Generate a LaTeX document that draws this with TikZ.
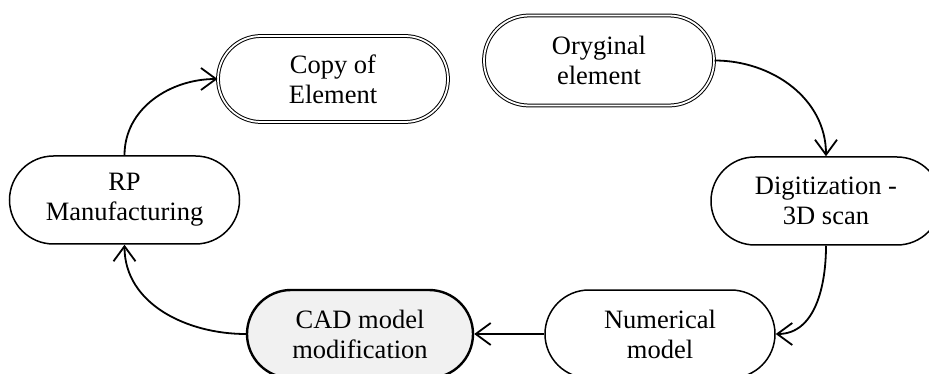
\documentclass[tikz,border=0pt]{standalone}
\usepackage{fontspec}
\setmainfont{Liberation Serif}
\usetikzlibrary{shapes.misc,arrows.meta}
\definecolor{cadfill}{HTML}{F1F1F1}
\tikzset{
  pill/.style={rounded rectangle, draw, line width=1.5pt, minimum width=230pt, minimum height=88pt,
    inner sep=0pt, align=center, font=\fontsize{26.5}{30}\selectfont},
  dpill/.style={pill, double, line width=1pt, double distance=1.8pt},
  flow/.style={line width=1.8pt, -{Straight Barb[length=15pt,width=22pt,line width=1.8pt]}}
}
\begin{document}
\begin{tikzpicture}[x=1pt,y=-1pt]
\useasboundingbox (0,0) rectangle (929,374);
\node[dpill, minimum width=230pt, minimum height=90pt] (orig) at (599,60.5) {Oryginal\\element};
\node[dpill, minimum width=230pt, minimum height=86pt] (copy) at (333,79) {Copy of\\Element};
\node[pill] (rp) at (124.5,200) {RP\\Manufacturing};
\node[pill] (dig) at (826,201) {Digitization -\\3D scan};
\node[pill] (num) at (660,334) {Numerical\\model};
\node[pill, fill=cadfill, line width=2.4pt, minimum width=226pt] (cad) at (360,334) {CAD model\\modification};
\draw[flow] (orig.east) to[out=0,in=90] (dig.north);
\draw[flow] (dig.south) to[out=-90,in=0] (num.east);
\draw[flow] (num.west) -- (cad.east);
\draw[flow] (cad.west) to[out=180,in=-90] (rp.south);
\draw[flow] (rp.north) to[out=90,in=180] (copy.west);
\end{tikzpicture}
\end{document}
